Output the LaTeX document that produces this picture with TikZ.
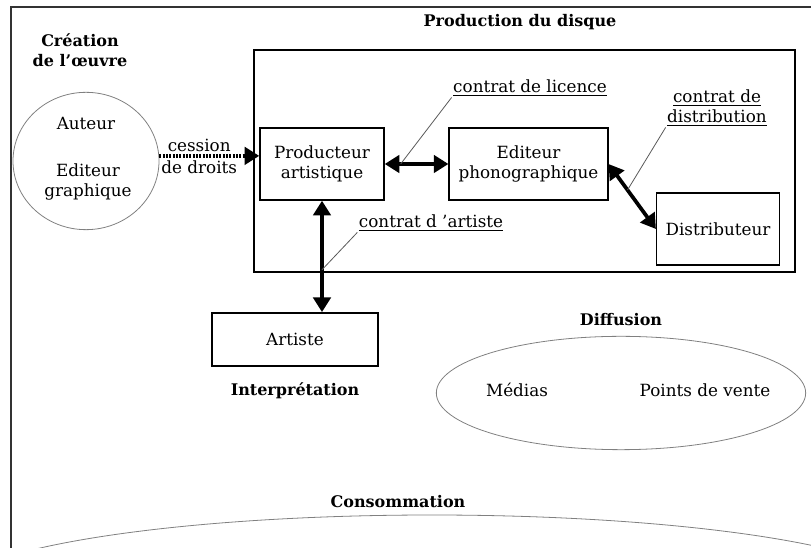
\documentclass[tikz,border=0pt]{standalone}
\usepackage{fontspec}
\setmainfont{DejaVu Serif}
\usetikzlibrary{positioning, arrows.meta, shapes.geometric}
\tikzset{
x=0.75pt, y=-0.75pt, % one unit is one pixel of the sketch
every node/.style={font=\fontsize{12.6pt}{15pt}\selectfont, align=center},
box/.style={draw, line width=1.1pt, inner sep=0pt}, % the actors
title/.style={font=\fontsize{12pt}{15pt}\selectfont\bfseries}, % the stages
zone/.style={draw=gray, line width=0.6pt, inner sep=0pt, ellipse}, % circles and ellipses
link/.style={{Triangle[width=13pt,length=11pt]}-{Triangle[width=13pt,length=11pt]}, line width=2.8pt}, % contracts
cession/.style={-{Triangle[width=13pt,length=11pt]}, line width=3pt, dash pattern=on 1.5pt off 1pt},
leader/.style={draw=black!65, line width=0.6pt},
clause/.style={inner sep=1pt},
}
\begin{document}
\begin{tikzpicture}
\clip (0,0) rectangle (811,548);
% frame of the page
\draw[line width=1.2pt, black!80] (811,7) -- (11,7) -- (11,560);

% creation
\node[title] (creation) at (80,50) {Création\\de l'œuvre};
\node[zone, minimum width=109.5pt, minimum height=103pt] (circ) at (86,161) {};
\node (auteur) at (86,124) {Auteur};
\node (graph) at (88,182) {Editeur\\graphique};

% production
\draw[line width=2pt] (254,50) rectangle (795,272);
\node[title] (production) at (520,22) {Production du disque};
\node[box, minimum width=93pt, minimum height=54pt] (prod) at (322,164) {Producteur\\artistique};
\node[box, minimum width=119pt, minimum height=54pt] (edit) at (528.5,164) {Editeur\\phonographique};
\node[box, minimum width=92pt, minimum height=54pt] (dist) at (718,229) {Distributeur};

% interpretation
\node[box, minimum width=124.5pt, minimum height=40pt] (art) at (295,339.5) {Artiste};
\node[title, below=8pt of art] (interp) {Interprétation};

% diffusion
\node[zone, minimum width=277pt, minimum height=85pt] (diff) at (621,393) {};
\node[title, above=4pt of diff] (diffusion) {Diffusion};
\node (medias) at (517,390) {Médias};
\node (vente) at (705,390) {Points de vente};

% consommation
\node[zone, minimum width=726pt, minimum height=120pt] (conso) at (432,595) {};
\node[title] (consommation) at (398,502) {Consommation};

% contracts
\node[clause] (lic) at (530,88) {\underline{contrat de licence}};
\node[clause] (distrib) at (717,108) {\underline{contrat de}\\\underline{distribution}};
\node[clause] (artc) at (431,223) {\underline{contrat d 'artiste}};

\draw[cession] (circ.4) -- (circ.4 -| prod.west)
    node[pos=0.4, above=-1.5pt] {cession}
    node[pos=0.4, below=-1.5pt] {de droits};
\draw[link] (prod) -- (edit) coordinate[pos=0.25] (licpt);
\draw[link] (edit.east) -- (dist.west) coordinate[pos=0.4] (distpt);
\draw[link] (prod.south) -- (prod.south |- art.north) coordinate[pos=0.62] (artpt);

\draw[leader] (licpt) -- (lic.south west);
\draw[leader] (distpt) -- (distrib.south west);
\draw[leader] (artpt) -- (artc.south west);
\end{tikzpicture}
\end{document}
